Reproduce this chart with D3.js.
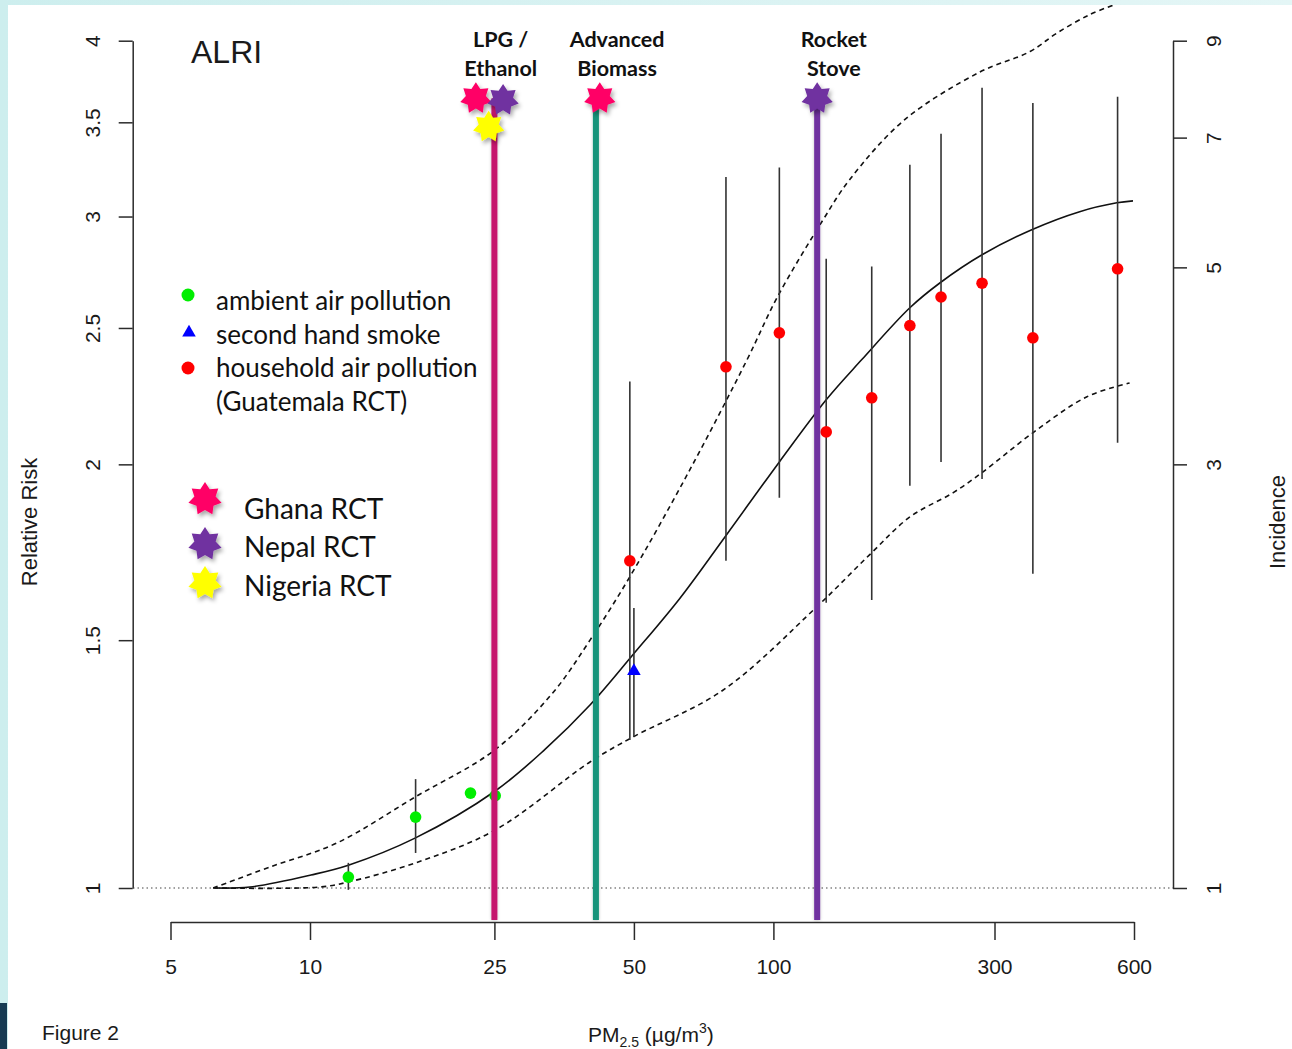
<!DOCTYPE html>
<html>
<head>
<meta charset="utf-8">
<script src="https://cdn.jsdelivr.net/npm/d3@7"></script>
<style>
  body { margin: 0; background: #d9f1f1; }
  svg { display: block; }
  .axis text { font-family: "Liberation Sans", Arial, sans-serif; font-size: 21px; fill: #1a1a1a; }
  .axis path, .axis line { stroke: #2b2b2b; stroke-width: 1.5; }
  .rtext { font-family: "Liberation Sans", Arial, sans-serif; fill: #1a1a1a; }
  .ctext { font-family: Lato, "Open Sans", sans-serif; fill: #111; }
</style>
</head>
<body>
<svg id="chart" width="1292" height="1049"></svg>
<script>
// ticks
let pmTicks = [5, 10, 25, 50, 100, 300, 600];
let rrTicks = [1, 1.5, 2, 2.5, 3, 3.5, 4];
let incTicks = [1, 3, 5, 7, 9];

// exposure-response curve (pm, rr) and its bounds
let curveMid = [[6.24, 1.0], [7.42, 1.0016], [10.05, 1.0215], [12.1, 1.038], [16.85, 1.085], [25.1, 1.172],
  [32.1, 1.254], [40.2, 1.349], [49.7, 1.464], [62.8, 1.606], [78.6, 1.776], [103, 2.008], [130, 2.223],
  [155, 2.373], [197, 2.584], [229, 2.692], [282, 2.818], [361, 2.936], [458, 3.024], [551, 3.068], [597, 3.078]];
let curveUpper = [[6.18, 1.0], [8.2, 1.035], [11.4, 1.076], [16.9, 1.161], [25.1, 1.254], [33.4, 1.376],
  [40.2, 1.5], [49.0, 1.664], [66, 1.982], [87.7, 2.373], [102, 2.63], [128, 2.984], [146, 3.186],
  [192, 3.515], [279, 3.80], [358, 3.93], [409, 4.05], [482, 4.175], [545, 4.243]];
let curveLower = [[6.18, 1.0], [10.5, 1.0016], [12.1, 1.0099], [16.9, 1.042], [25.1, 1.0995], [40.2, 1.229],
  [49.7, 1.28], [77.8, 1.382], [124, 1.584], [161, 1.724], [197, 1.835], [244, 1.909], [283, 1.975],
  [363, 2.106], [475, 2.234], [587, 2.285]];

// study estimates
let ambient = [
  { pm: 12.1, rr: 1.018, lo: 0.997, hi: 1.042 },
  { pm: 16.9, rr: 1.123, lo: 1.059, hi: 1.195 },
  { pm: 22.2, rr: 1.168 },
  { pm: 25.1, rr: 1.163 }
];
let secondHand = [{ pm: 50, rr: 1.426, lo: 1.28, hi: 1.581 }];
let household = [
  { pm: 49, rr: 1.708, lo: 1.274, hi: 2.29 },
  { pm: 79, rr: 2.346, lo: 1.708, hi: 3.20 },
  { pm: 103, rr: 2.48, lo: 1.894, hi: 3.25 },
  { pm: 130, rr: 2.109, lo: 1.595, hi: 2.80 },
  { pm: 163, rr: 2.23, lo: 1.602, hi: 2.764 },
  { pm: 197, rr: 2.51, lo: 1.931, hi: 3.265 },
  { pm: 230, rr: 2.63, lo: 2.008, hi: 3.435 },
  { pm: 282, rr: 2.69, lo: 1.953, hi: 3.704 },
  { pm: 363, rr: 2.46, lo: 1.672, hi: 3.613 },
  { pm: 553, rr: 2.754, lo: 2.072, hi: 3.649 }
];

// stove interventions and trials
let stoves = [
  { label: ["LPG /", "Ethanol"], pm: 25, color: "#c5126d", labelPm: 25.8 },
  { label: ["Advanced", "Biomass"], pm: 41.4, color: "#17937a", labelPm: 46 },
  { label: ["Rocket", "Stove"], pm: 124.3, color: "#7030a0", labelPm: 135 }
];
let trials = [
  { name: "Ghana RCT", color: "#ff0066" },
  { name: "Nepal RCT", color: "#7030a0" },
  { name: "Nigeria RCT", color: "#ffff00" }
];
let trialStars = [
  { trial: "Ghana RCT", pm: 22.8, rr: 3.64 },
  { trial: "Nepal RCT", pm: 26.1, rr: 3.63 },
  { trial: "Nigeria RCT", pm: 24.3, rr: 3.474 },
  { trial: "Ghana RCT", pm: 42.2, rr: 3.64 },
  { trial: "Nepal RCT", pm: 124.3, rr: 3.64 }
];
let legendItems = ["ambient air pollution", "second hand smoke", "household air pollution"];

let svg = d3.select("#chart");
let axisY = 922;

let x = d3.scaleLog().domain([5, 600]).range([170.5, 1134]);
let y = d3.scaleLog().domain([1, 4]).range([888, 40.7]);
let yInc = d3.scaleLog().domain([1, 9]).range([888, 40.7]);

let starPath = function (r) {
  let pts = d3.range(14).map(i => [i * Math.PI / 7, i % 2 ? r * 0.64 : r]);
  return d3.lineRadial().curve(d3.curveLinearClosed)(pts);
};
let trialColor = name => trials.find(t => t.name == name).color;

// background frame
let defs = svg.append("defs");
let grad = defs.append("linearGradient").attr("id", "frame").attr("x1", 0).attr("x2", 1);
grad.append("stop").attr("offset", 0).attr("stop-color", "#cdeeee");
grad.append("stop").attr("offset", 1).attr("stop-color", "#e4f6f6");
svg.append("rect").attr("width", 1292).attr("height", 1049).attr("fill", "url(#frame)");
svg.append("rect").attr("x", 8).attr("y", 5).attr("width", 1284).attr("height", 1044).attr("fill", "#fff");
svg.append("rect").attr("x", 0).attr("y", 1003).attr("width", 7).attr("height", 46).attr("fill", "#173a52");

defs.append("clipPath").attr("id", "plotClip")
  .append("rect").attr("x", 8).attr("y", 5).attr("width", 1284).attr("height", 1044);
let shadow = defs.append("filter").attr("id", "shadow").attr("x", "-50%").attr("y", "-50%")
  .attr("width", "200%").attr("height", "200%");
shadow.append("feDropShadow").attr("dx", 2).attr("dy", 3).attr("stdDeviation", 2)
  .attr("flood-color", "#000").attr("flood-opacity", 0.35);
let lineShadow = defs.append("filter").attr("id", "lineShadow").attr("x", "-200%").attr("width", "500%");
lineShadow.append("feDropShadow").attr("dx", 0).attr("dy", 0).attr("stdDeviation", 1.5)
  .attr("flood-color", "#000").attr("flood-opacity", 0.25);

// axes
let bottom = svg.append("g").attr("class", "axis")
  .attr("transform", `translate(0,${axisY})`)
  .call(d3.axisBottom(x).tickValues(pmTicks).tickFormat(d3.format("d"))
    .tickSize(18).tickSizeOuter(0).tickPadding(19));

let left = svg.append("g").attr("class", "axis")
  .attr("transform", "translate(132.7,0)")
  .call(d3.axisLeft(y).tickValues(rrTicks).tickFormat(d => d)
    .tickSize(14).tickSizeOuter(0));
left.selectAll(".tick text").attr("x", 0).attr("dy", 0)
  .attr("text-anchor", "middle").attr("transform", "translate(-33,0) rotate(-90)");

let right = svg.append("g").attr("class", "axis")
  .attr("transform", "translate(1173,0)")
  .call(d3.axisRight(yInc).tickValues(incTicks).tickFormat(d => d)
    .tickSize(14).tickSizeOuter(0));
right.selectAll(".tick text").attr("x", 0).attr("dy", 0)
  .attr("text-anchor", "middle").attr("transform", "translate(48,0) rotate(-90)");

// reference line at RR = 1
svg.append("line")
  .attr("x1", 133).attr("x2", 1173).attr("y1", y(1)).attr("y2", y(1))
  .attr("stroke", "#444").attr("stroke-width", 1.2).attr("stroke-dasharray", "1.5,3");

// curves
let plot = svg.append("g").attr("clip-path", "url(#plotClip)");
let lineGen = d3.line().x(d => x(d[0])).y(d => y(d[1])).curve(d3.curveCatmullRom.alpha(0.5));
plot.append("path").datum(curveMid).attr("d", lineGen)
  .attr("fill", "none").attr("stroke", "#111").attr("stroke-width", 1.6);
[curveUpper, curveLower].forEach(c => {
  plot.append("path").datum(c).attr("d", lineGen)
    .attr("fill", "none").attr("stroke", "#111").attr("stroke-width", 1.6)
    .attr("stroke-dasharray", "5,4");
});

// error bars
let withBars = ambient.concat(household).filter(d => d.lo);
plot.selectAll(".bar").data(withBars).join("line")
  .attr("x1", d => x(d.pm)).attr("x2", d => x(d.pm))
  .attr("y1", d => y(d.lo)).attr("y2", d => y(d.hi))
  .attr("stroke", "#333").attr("stroke-width", 1.6);
plot.selectAll(".sbar").data(secondHand).join("line")
  .attr("x1", d => x(d.pm)).attr("x2", d => x(d.pm))
  .attr("y1", d => y(d.lo)).attr("y2", d => y(d.hi))
  .attr("stroke", "#333").attr("stroke-width", 1.6);

// points
plot.selectAll(".amb").data(ambient).join("circle")
  .attr("cx", d => x(d.pm)).attr("cy", d => y(d.rr)).attr("r", 5.8).attr("fill", "#00ee00");
plot.selectAll(".hap").data(household).join("circle")
  .attr("cx", d => x(d.pm)).attr("cy", d => y(d.rr)).attr("r", 5.8).attr("fill", "#ff0000");
let tri = d3.symbol(d3.symbolTriangle, 80);
plot.selectAll(".shs").data(secondHand).join("path")
  .attr("d", tri).attr("transform", d => `translate(${x(d.pm)},${y(d.rr)})`).attr("fill", "#0000ff");

// legend for study types
let legendColors = ["#00ee00", "#0000ff", "#ff0000"];
let legend = svg.append("g");
legendItems.forEach((t, i) => {
  let cy = 295 + i * 36.5;
  if (i == 1) {
    legend.append("path").attr("d", tri).attr("transform", `translate(189,${cy + 1})`).attr("fill", legendColors[i]);
  } else {
    legend.append("circle").attr("cx", 188).attr("cy", cy).attr("r", 6.5).attr("fill", legendColors[i]);
  }
  legend.append("text").attr("class", "ctext").attr("x", 216).attr("y", 310 + i * 33.5)
    .style("font-size", "26px").text(t);
});
legend.append("text").attr("class", "ctext").attr("x", 216).attr("y", 411)
  .style("font-size", "26px").text("(Guatemala RCT)");

// trial legend
trials.forEach((t, i) => {
  let cy = [499, 544, 583][i];
  legend.append("path").attr("d", starPath(17)).attr("transform", `translate(205,${cy})`)
    .attr("fill", t.color).attr("filter", "url(#shadow)");
  legend.append("text").attr("class", "ctext").attr("x", 244).attr("y", [519, 557, 596][i])
    .style("font-size", "28px").text(t.name);
});

// stove lines, labels and stars
stoves.forEach(s => {
  svg.append("rect")
    .attr("x", x(s.pm) - 3).attr("width", 6)
    .attr("y", y(3.64)).attr("height", axisY - 2 - y(3.64))
    .attr("fill", s.color).attr("filter", "url(#lineShadow)");
  s.label.forEach((l, j) => {
    svg.append("text").attr("class", "ctext").attr("x", x(s.labelPm)).attr("y", 47 + j * 29)
      .attr("text-anchor", "middle").style("font-size", "21.5px").style("font-weight", "bold").text(l);
  });
});
svg.selectAll(".star").data(trialStars).join("path")
  .attr("d", starPath(16))
  .attr("transform", d => `translate(${x(d.pm)},${y(d.rr)})`)
  .attr("fill", d => trialColor(d.trial)).attr("filter", "url(#shadow)");

// titles
svg.append("text").attr("class", "rtext").attr("x", 191).attr("y", 63).style("font-size", "32px").text("ALRI");
svg.append("text").attr("class", "rtext").style("font-size", "22px").attr("text-anchor", "middle")
  .attr("transform", "translate(37,522) rotate(-90)").text("Relative Risk");
svg.append("text").attr("class", "rtext").style("font-size", "22px").attr("text-anchor", "middle")
  .attr("transform", "translate(1285,522) rotate(-90)").text("Incidence");
svg.append("text").attr("class", "rtext").attr("x", 42).attr("y", 1040).style("font-size", "21px").text("Figure 2");

let xlab = svg.append("text").attr("class", "rtext").attr("x", 588).attr("y", 1042).style("font-size", "21px");
xlab.append("tspan").text("PM");
xlab.append("tspan").attr("dy", 5).style("font-size", "14px").text("2.5");
xlab.append("tspan").attr("dy", -5).text(" (\u00b5g/m");
xlab.append("tspan").attr("dy", -9).style("font-size", "14px").text("3");
xlab.append("tspan").attr("dy", 9).text(")");
</script>
</body>
</html>
